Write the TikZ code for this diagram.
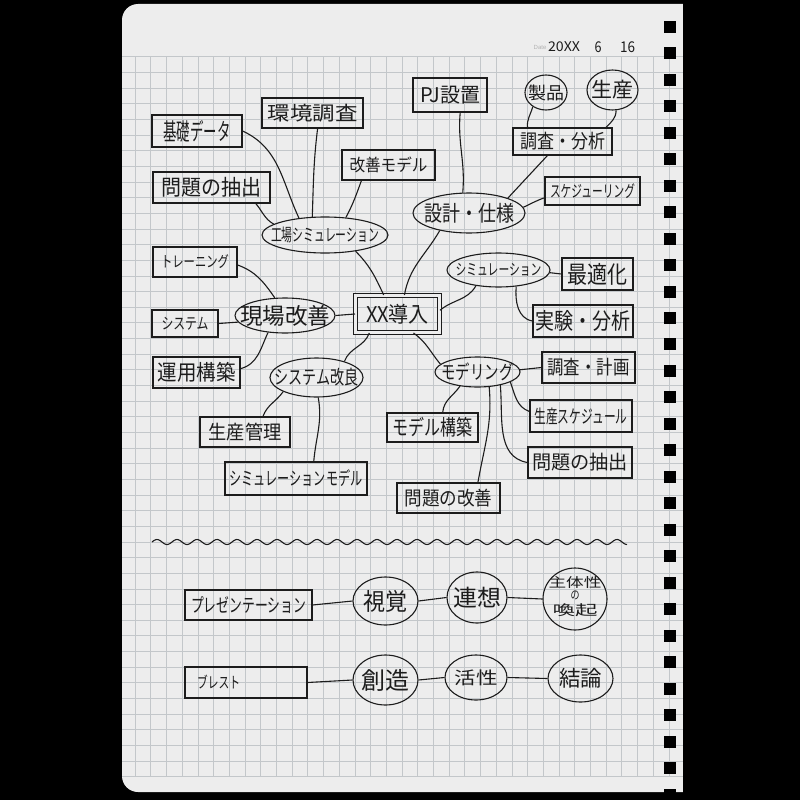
\documentclass[tikz,border=0pt]{standalone}
\usepackage{fontspec}
\usepackage{graphicx}
\setmainfont{Noto Sans CJK JP}
\newfontfamily\datefont{Liberation Sans}
\usetikzlibrary{shapes.geometric}
\definecolor{paper}{HTML}{EDEDED}
\definecolor{gridc}{HTML}{C3C7CA}
\definecolor{ink}{HTML}{1C1C1C}
\newcommand{\tx}[3]{\makebox[0pt]{\resizebox*{#1pt}{#2pt}{#3}}}
\begin{document}
\begin{tikzpicture}[x=1pt,y=-1pt,
  bx/.style={rectangle, draw=ink, line width=1.3pt, inner sep=0pt, text=ink},
  el/.style={ellipse, draw=ink, line width=1.1pt, inner sep=0pt, text=ink},
  conn/.style={draw=ink, line width=1.1pt},
  gridline/.style={draw=gridc, line width=0.6pt}]
\useasboundingbox (0,0) rectangle (800,800);
% background and page
\fill[black] (0,0) rectangle (800,800);
\fill[paper, rounded corners=16pt] (122,4) rectangle (700,792);
\fill[black] (683,0) rectangle (800,800);
\begin{scope}
  \clip[rounded corners=16pt] (122,4) rectangle (683,792);
  \foreach \k in {0,...,34} \draw[gridline] ({135+15.7*\k},56.7) -- ({135+15.7*\k},776.6);
  \foreach \k in {0,...,46} \draw[gridline] (122,{56.7+15.65*\k}) -- (683,{56.7+15.65*\k});
\end{scope}
% binder holes
\foreach \k in {0,...,29} \fill[black] (664,{20.7+26.48*\k}) rectangle +(12,12);
% date
\node[text=gray!60, font=\datefont\fontsize{6}{6}\selectfont] (datelbl) at (540,47) {Date};
\node[text=ink, inner sep=0pt] (dy) at (564,47) {\tx{32}{10}{20XX}};
\node[text=ink, inner sep=0pt] (dm) at (598,47) {\tx{7}{11}{6}};
\node[text=ink, inner sep=0pt] (dd) at (627.5,47) {\tx{15}{11}{16}};

% ---------- boxes ----------
\node[bx, minimum width=90, minimum height=32] (kiso) at (197,131) {\tx{67}{22}{基礎データ}};
\node[bx, minimum width=101, minimum height=30] (kankyo) at (312.5,113) {\tx{90}{18}{環境調査}};
\node[bx, minimum width=93, minimum height=30] (kaizen) at (388.5,165) {\tx{78}{16}{改善モデル}};
\node[bx, minimum width=117, minimum height=31] (mondaiA) at (211.5,187.5) {\tx{100}{20}{問題の抽出}};
\node[bx, minimum width=74, minimum height=34] (pj) at (450,95) {\tx{60}{18}{PJ設置}};
\node[bx, minimum width=99, minimum height=27] (chosaA) at (562.5,141.5) {\tx{85}{18}{調査・分析}};
\node[bx, minimum width=95, minimum height=28] (sched) at (592.5,191) {\tx{85}{15}{スケジューリング}};
\node[bx, minimum width=84, minimum height=30] (training) at (195,262) {\tx{68}{14}{トレーニング}};
\node[bx, minimum width=66, minimum height=27] (system) at (185,323.5) {\tx{47}{13}{システム}};
\node[bx, minimum width=87, minimum height=31] (unyo) at (196.5,372.5) {\tx{78}{20}{運用構築}};
\node[bx, minimum width=84, minimum height=37, line width=1pt, double=paper, double distance=3pt] (xx) at (397.5,314) {\tx{63}{20}{XX導入}};
\node[bx, minimum width=71, minimum height=32] (saiteki) at (597.5,274) {\tx{60}{22}{最適化}};
\node[bx, minimum width=100, minimum height=32] (jikken) at (583,321) {\tx{95}{21}{実験・分析}};
\node[bx, minimum width=93, minimum height=31] (chosaB) at (588.5,367.5) {\tx{82}{18}{調査・計画}};
\node[bx, minimum width=102, minimum height=32] (seisanS) at (581,416) {\tx{93}{17}{生産スケジュール}};
\node[bx, minimum width=104, minimum height=31] (mondaiB) at (580,462.5) {\tx{96}{18}{問題の抽出}};
\node[bx, minimum width=91, minimum height=29] (modelK) at (432.5,427.5) {\tx{80}{20}{モデル構築}};
\node[bx, minimum width=103, minimum height=30] (mondaiK) at (448.5,498) {\tx{88}{18}{問題の改善}};
\node[bx, minimum width=90, minimum height=30] (seisanK) at (245,432) {\tx{73}{18}{生産管理}};
\node[bx, minimum width=142, minimum height=33] (simModel) at (296,478.5) {\tx{133}{17}{シミュレーションモデル}};
\node[bx, minimum width=127, minimum height=30] (presen) at (248.5,605) {\tx{115}{17}{プレゼンテーション}};
\node[bx, minimum width=122, minimum height=31] (brest) at (246,682.5) {\makebox[0pt]{\resizebox*{43pt}{14pt}{ブレスト}\hspace{55pt}}};

% ---------- ellipses ----------
\node[el, minimum width=126, minimum height=36] (kojo) at (325,235) {\tx{108}{16}{工場シミュレーション}};
\node[el, minimum width=112, minimum height=40] (sekkei) at (469,213) {\tx{90}{20}{設計・仕様}};
\node[el, minimum width=42, minimum height=35] (seihin) at (546,92.5) {\tx{36}{16}{製品}};
\node[el, minimum width=51, minimum height=40] (seisan) at (612.5,90) {\tx{42}{19}{生産}};
\node[el, minimum width=100, minimum height=35] (genba) at (285,315.5) {\tx{90}{21}{現場改善}};
\node[el, minimum width=93, minimum height=39] (sysK) at (316.5,377.5) {\tx{84}{18}{システム改良}};
\node[el, minimum width=103, minimum height=34] (sim) at (498.5,270) {\tx{86}{13}{シミュレーション}};
\node[el, minimum width=85, minimum height=30] (modeling) at (477.5,372) {\tx{72}{18}{モデリング}};
\node[el, minimum width=65, minimum height=48] (shikaku) at (385.5,601) {\tx{44}{22}{視覚}};
\node[el, minimum width=60, minimum height=51] (renso) at (477,597.5) {\tx{48}{21}{連想}};
\node[el, minimum width=64, minimum height=62] (shutai) at (575,599)
  {\makebox[0pt]{\raisebox{-2.5pt}{\smash{\begin{tabular}[c]{@{}c@{}}\resizebox*{53pt}{12pt}{主体性}\\[0pt]\resizebox*{9pt}{9pt}{の}\\[0pt]\resizebox*{45pt}{13pt}{喚起}\end{tabular}}}}};
\node[el, minimum width=65, minimum height=50] (sozo) at (385.5,680) {\tx{48}{22}{創造}};
\node[el, minimum width=62, minimum height=45] (kassei) at (476,677.5) {\tx{43}{16}{活性}};
\node[el, minimum width=65, minimum height=47] (ketsuron) at (580.5,678.5) {\tx{43}{20}{結論}};

% ---------- connectors ----------
\draw[conn] (kiso.east) to[out=-25,in=115] (kojo.147);
\draw[conn] (kankyo.-72) to[out=-97,in=88] (kojo.125);
\draw[conn] (kaizen.-150) to[out=-110,in=62] (kojo.40);
\draw[conn] (mondaiA.-20) to[out=-50,in=150] (kojo.168);
\draw[conn] (kojo.-28) to[out=-45,in=115] (xx.126);
\draw[conn] (sekkei.-149) to[out=-120,in=80] (xx.70);
\draw[conn] (pj.-60) to[out=-95,in=85] (sekkei.107);
\draw[conn] (seihin.-133) to[out=-105,in=95] (chosaA.158);
\draw[conn] (seisan.-80) to[out=-90,in=45] (chosaA.18);
\draw[conn] (chosaA.-137) -- (sekkei.21);
\draw[conn] (sched.-172) to[out=200,in=25] (sekkei.6);
\draw[conn] (genba.east) -- (xx.west);
\draw[conn] (training.-4) to[out=-20,in=125] (genba.120);
\draw[conn] (system.east) -- (genba.188);
\draw[conn] (unyo.5) to[out=15,in=-115] (genba.-135);
\draw[conn] (xx.-146) to[out=-110,in=70] (sysK.30);
\draw[conn] (xx.5) to[out=40,in=-120] (sim.-145);
\draw[conn] (sim.-3) -- (saiteki.west);
\draw[conn] (sim.-43) to[out=-95,in=170] (jikken.west);
\draw[conn] (xx.-50) to[out=-35,in=130] (modeling.168);
\draw[conn] (modeling.3) -- (chosaB.west);
\draw[conn] (modeling.-17) to[out=-70,in=160] (seisanS.175);
\draw[conn] (modeling.-30) to[out=-85,in=170] (mondaiB.west);
\draw[conn] (modeling.-52) to[out=-85,in=80] (mondaiK.28);
\draw[conn] (modeling.-141) to[out=-125,in=85] (modelK.56);
\draw[conn] (sysK.-157) to[out=-125,in=70] (seisanK.41);
\draw[conn] (sysK.-85) to[out=-80,in=85] (simModel.44);
\draw[conn] (presen.east) -- (shikaku.west);
\draw[conn] (shikaku.east) -- (renso.west);
\draw[conn] (renso.east) -- (shutai.west);
\draw[conn] (brest.east) -- (sozo.west);
\draw[conn] (sozo.east) -- (kassei.west);
\draw[conn] (kassei.east) -- (ketsuron.west);

% wavy separator
\draw[conn] plot[domain=152:627, samples=400, smooth] (\x, {542-2.5*sin(18*(\x-152))});
\end{tikzpicture}
\end{document}
